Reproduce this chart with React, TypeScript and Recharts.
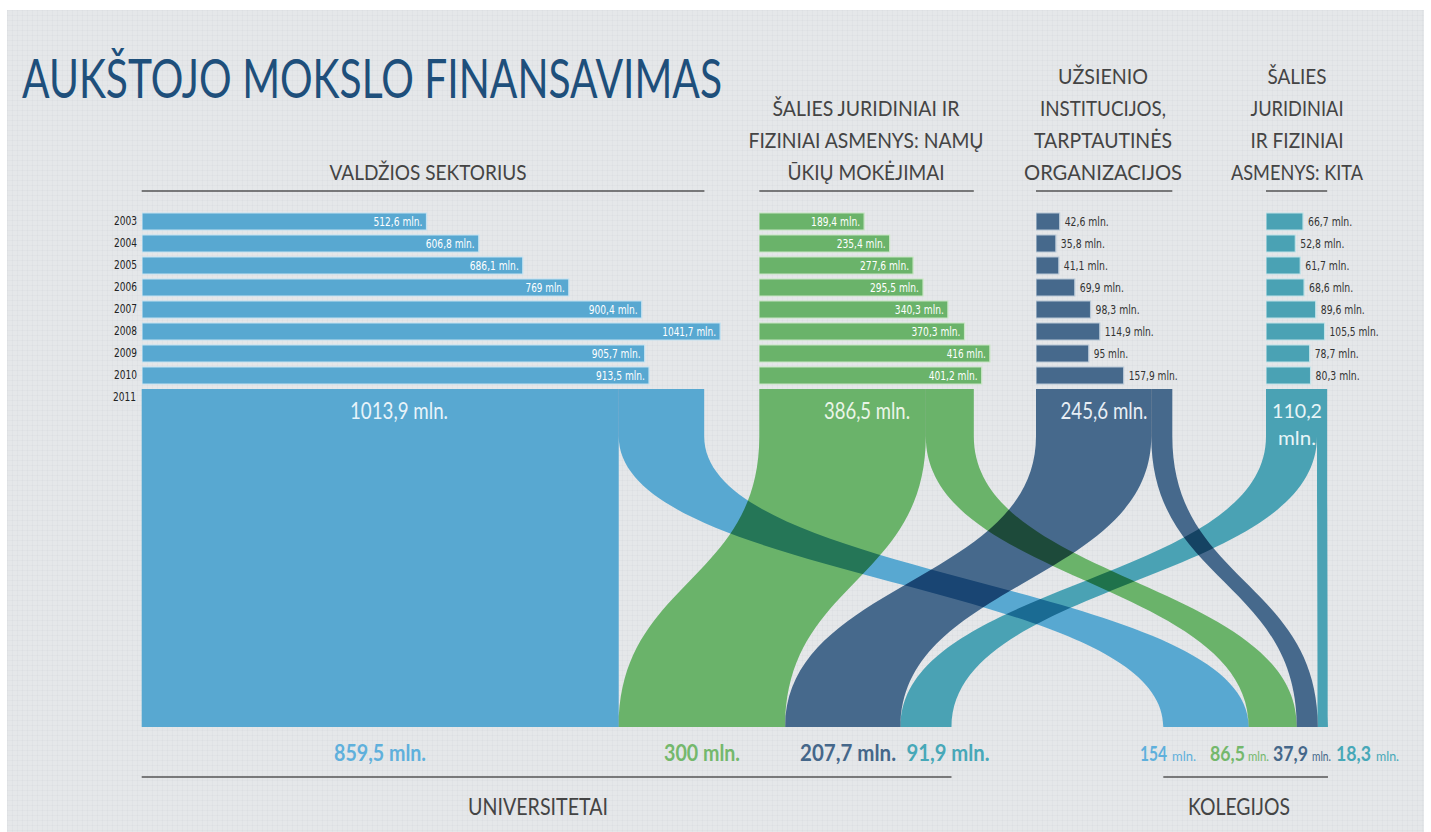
import React from "react";
import { Area, Bar, BarChart, ComposedChart, LabelList, XAxis, YAxis } from "recharts";

// yearly funding, mln. Lt
const years = ["2003", "2004", "2005", "2006", "2007", "2008", "2009", "2010"];
const government = [512.6, 606.8, 686.1, 769, 900.4, 1041.7, 905.7, 913.5];
const households = [189.4, 235.4, 277.6, 295.5, 340.3, 370.3, 416, 401.2];
const foreign = [42.6, 35.8, 41.1, 69.9, 98.3, 114.9, 95, 157.9];
const otherPrivate = [66.7, 52.8, 61.7, 68.6, 89.6, 105.5, 78.7, 80.3];

// 2011 split
const total2011 = [1013.9, 386.5, 245.6, 110.2];
const toUniversities = [859.5, 300, 207.7, 91.9];
const toColleges = [154, 86.5, 37.9, 18.3];

const COLORS = ["#58a8d1", "#6ab36a", "#46698c", "#4aa2b4"];
const EDGES = ["#c4e2f1", "#c8e6c4", "#b7c7d6", "#c0e2e8"];
const TEXT_COLORS = ["#5fb0dc", "#74b86c", "#45678a", "#47a8b8"];

const PX = 0.555; // px per mln
const GROUP_X = [141.7, 759.3, 1036, 1266];
const COLLEGE_X = 1163.3;
const ROW_TOP = 210.2;
const ROW_H = 22;
const FLOW_TOP = 389;
const FLOW_BOTTOM = 727;
const SPLIT = 0.14;
const W = 1431;
const H = 832;

const COND = "'Liberation Sans Narrow', 'DejaVu Sans Condensed', 'Liberation Sans', sans-serif";
const HEAD = "Lato, 'Open Sans', sans-serif";

const fmt = (v: number) => String(v).replace(".", ",") + " mln.";
const num = (v: number) => String(v).replace(".", ",");

const groups = [
  { values: government, max: 1100, inside: true },
  { values: households, max: 450, inside: true },
  { values: foreign, max: 400, inside: false },
  { values: otherPrivate, max: 250, inside: false },
];

function Txt({ x, y, w, size, fill = "#444", anchor = "middle", weight = 400, family = HEAD, children }: any) {
  return (
    <text
      x={x}
      y={y}
      fontSize={size}
      fill={fill}
      textAnchor={anchor}
      fontWeight={weight}
      fontFamily={family}
      textLength={w}
      lengthAdjust="spacingAndGlyphs"
    >
      {children}
    </text>
  );
}

const YearTick = (p: any) => (
  <text x={p.x} y={p.y + 4} textAnchor="end" fontSize={12} fill="#222" fontFamily={COND} textLength={23} lengthAdjust="spacingAndGlyphs">
    {p.payload.value}
  </text>
);

const makeLabel = (inside: boolean) => (p: any) => {
  const s = fmt(p.value);
  const x = Number(p.x) + Number(p.width);
  return (
    <text
      x={inside ? x - 4 : x + 5}
      y={Number(p.y) + Number(p.height) / 2 + 4}
      fontSize={12}
      fill={inside ? "#ffffff" : "#333"}
      textAnchor={inside ? "end" : "start"}
      fontFamily={COND}
      textLength={s.length * 4.9}
      lengthAdjust="spacingAndGlyphs"
    >
      {s}
    </text>
  );
};

// ribbon ranges (in mln units along the page) at top, split and bottom
const flowRows = [0, SPLIT, 1].map((t) => {
  const row: any = { t };
  let uCum = 0;
  let cCum = 0;
  total2011.forEach((_, i) => {
    const top0 = GROUP_X[i] / PX;
    if (t < 1) {
      row["u" + i] = [top0, top0 + toUniversities[i]];
      row["c" + i] = [top0 + toUniversities[i], top0 + toUniversities[i] + toColleges[i]];
    } else {
      const u0 = GROUP_X[0] / PX + uCum;
      const c0 = COLLEGE_X / PX + cCum;
      row["u" + i] = [u0, u0 + toUniversities[i]];
      row["c" + i] = [c0, c0 + toColleges[i]];
    }
    uCum += toUniversities[i];
    cCum += toColleges[i];
  });
  return row;
});

export default function App() {
  const uniEnd = GROUP_X[0] + toUniversities.reduce((a, b) => a + b, 0) * PX;
  const colEnd = COLLEGE_X + toColleges.reduce((a, b) => a + b, 0) * PX;

  return (
    <div style={{ position: "absolute", left: 0, top: 0, width: W, height: H, background: "#fff", overflow: "hidden" }}>
      <style>{`.flows .recharts-area, .flows .recharts-area path { mix-blend-mode: multiply; }`}</style>
      <div
        style={{
          position: "absolute",
          left: 7,
          top: 10,
          width: 1417,
          height: 822,
          background: "#e5e7e9",
          backgroundImage:
            "linear-gradient(rgba(200,204,210,0.16) 1px, transparent 1px), linear-gradient(90deg, rgba(200,204,210,0.16) 1px, transparent 1px)",
          backgroundSize: "5px 5px",
        }}
      />

      {groups.map((g, i) => {
        const axisW = i === 0 ? 40 : 0;
        const data = years.map((year, k) => ({ year, v: g.values[k] }));
        return (
          <div key={i} style={{ position: "absolute", left: GROUP_X[i] - axisW, top: ROW_TOP }}>
            <BarChart
              layout="vertical"
              width={axisW + g.max * PX}
              height={years.length * ROW_H}
              data={data}
              margin={{ top: 0, right: 0, bottom: 0, left: 0 }}
            >
              <XAxis type="number" domain={[0, g.max]} hide allowDataOverflow />
              <YAxis
                type="category"
                dataKey="year"
                hide={i > 0}
                width={axisW}
                axisLine={false}
                tickLine={false}
                tickSize={0}
                tickMargin={5}
                interval={0}
                tick={<YearTick />}
              />
              <Bar dataKey="v" fill={COLORS[i]} stroke={EDGES[i]} strokeWidth={1.2} barSize={17} isAnimationActive={false}>
                <LabelList dataKey="v" content={makeLabel(g.inside)} />
              </Bar>
            </BarChart>
          </div>
        );
      })}

      <div className="flows" style={{ position: "absolute", left: 0, top: FLOW_TOP, isolation: "isolate" }}>
        <ComposedChart
          layout="vertical"
          width={W}
          height={FLOW_BOTTOM - FLOW_TOP}
          data={flowRows}
          margin={{ top: 0, right: 0, bottom: 0, left: 0 }}
        >
          <XAxis type="number" domain={[0, W / PX]} hide />
          <YAxis type="number" dataKey="t" domain={[0, 1]} hide />
          {total2011.map((_, i) => (
            <Area
              key={"u" + i}
              dataKey={"u" + i}
              type="bumpY"
              stroke="none"
              fill={COLORS[i]}
              fillOpacity={1}
              dot={false}
              activeDot={false}
              isAnimationActive={false}
            />
          ))}
          {total2011.map((_, i) => (
            <Area
              key={"c" + i}
              dataKey={"c" + i}
              type="bumpY"
              stroke="none"
              fill={COLORS[i]}
              fillOpacity={1}
              dot={false}
              activeDot={false}
              isAnimationActive={false}
            />
          ))}
        </ComposedChart>
      </div>

      <svg width={W} height={H} style={{ position: "absolute", left: 0, top: 0, pointerEvents: "none" }}>
        <Txt x={372} y={98} w={700} size={54} fill="#1e4f7b">AUKŠTOJO MOKSLO FINANSAVIMAS</Txt>

        <Txt x={428} y={180} w={197} size={21}>VALDŽIOS SEKTORIUS</Txt>
        <Txt x={866} y={116} w={187} size={21}>ŠALIES JURIDINIAI IR</Txt>
        <Txt x={866} y={148} w={235} size={21}>FIZINIAI ASMENYS: NAMŲ</Txt>
        <Txt x={866} y={180} w={157} size={21}>ŪKIŲ MOKĖJIMAI</Txt>
        <Txt x={1103} y={84} w={90} size={21}>UŽSIENIO</Txt>
        <Txt x={1103} y={116} w={126} size={21}>INSTITUCIJOS,</Txt>
        <Txt x={1103} y={148} w={138} size={21}>TARPTAUTINĖS</Txt>
        <Txt x={1103} y={180} w={158} size={21}>ORGANIZACIJOS</Txt>
        <Txt x={1297} y={84} w={59} size={21}>ŠALIES</Txt>
        <Txt x={1297} y={116} w={93} size={21}>JURIDINIAI</Txt>
        <Txt x={1297} y={148} w={93} size={21}>IR FIZINIAI</Txt>
        <Txt x={1297} y={180} w={132} size={21}>ASMENYS: KITA</Txt>

        {total2011.map((v, i) => (
          <line key={i} x1={GROUP_X[i]} x2={GROUP_X[i] + v * PX} y1={191} y2={191} stroke="#555" strokeWidth={1.5} />
        ))}

        <text x={136} y={401} textAnchor="end" fontSize={12} fill="#222" fontFamily={COND} textLength={23} lengthAdjust="spacingAndGlyphs">
          2011
        </text>

        <Txt x={399} y={419} w={98} size={24} fill="#e8f4fa">{fmt(total2011[0])}</Txt>
        <Txt x={867} y={419} w={86} size={24} fill="#eaf5e8">{fmt(total2011[1])}</Txt>
        <Txt x={1104} y={419} w={87} size={24} fill="#e8eef5">{fmt(total2011[2])}</Txt>
        <Txt x={1297} y={418} w={50} size={20} fill="#e8f5f7">{num(total2011[3])}</Txt>
        <Txt x={1297} y={445} w={38} size={20} fill="#e8f5f7">mln.</Txt>

        <Txt x={380} y={761} w={92} size={22} weight={700} fill={TEXT_COLORS[0]}>{fmt(toUniversities[0])}</Txt>
        <Txt x={702} y={761} w={76} size={22} weight={700} fill={TEXT_COLORS[1]}>{fmt(toUniversities[1])}</Txt>
        <Txt x={848} y={761} w={96} size={22} weight={700} fill={TEXT_COLORS[2]}>{fmt(toUniversities[2])}</Txt>
        <Txt x={948} y={761} w={83} size={22} weight={700} fill={TEXT_COLORS[3]}>{fmt(toUniversities[3])}</Txt>

        <Txt x={1140} y={761} w={27} size={20} weight={700} anchor="start" fill={TEXT_COLORS[0]}>{num(toColleges[0])}</Txt>
        <Txt x={1172} y={761} w={24} size={13} anchor="start" fill={TEXT_COLORS[0]}>mln.</Txt>
        <Txt x={1210} y={761} w={35} size={20} weight={700} anchor="start" fill={TEXT_COLORS[1]}>{num(toColleges[1])}</Txt>
        <Txt x={1248} y={761} w={21} size={13} anchor="start" fill={TEXT_COLORS[1]}>mln.</Txt>
        <Txt x={1273} y={761} w={35} size={20} weight={700} anchor="start" fill={TEXT_COLORS[2]}>{num(toColleges[2])}</Txt>
        <Txt x={1312} y={761} w={19} size={13} anchor="start" fill={TEXT_COLORS[2]}>mln.</Txt>
        <Txt x={1336} y={761} w={35} size={20} weight={700} anchor="start" fill={TEXT_COLORS[3]}>{num(toColleges[3])}</Txt>
        <Txt x={1376} y={761} w={23} size={13} anchor="start" fill={TEXT_COLORS[3]}>mln.</Txt>

        <line x1={GROUP_X[0]} x2={uniEnd} y1={777} y2={777} stroke="#555" strokeWidth={1.5} />
        <line x1={COLLEGE_X} x2={colEnd} y1={777} y2={777} stroke="#555" strokeWidth={1.5} />
        <Txt x={538} y={815} w={140} size={24}>UNIVERSITETAI</Txt>
        <Txt x={1239} y={815} w={102} size={24}>KOLEGIJOS</Txt>
      </svg>
    </div>
  );
}
